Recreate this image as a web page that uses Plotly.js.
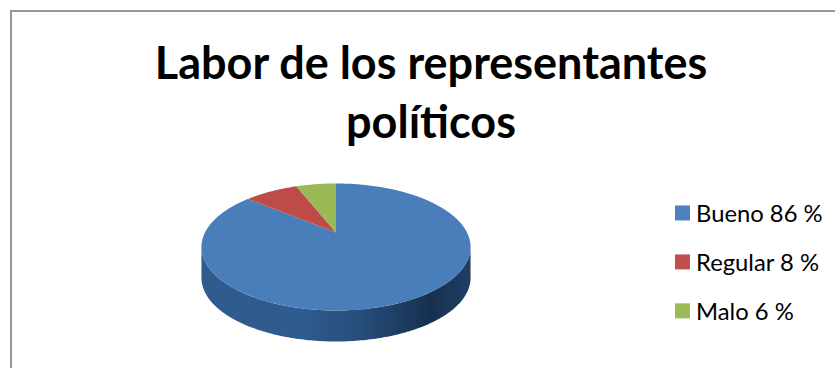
<!DOCTYPE html>
<html>
<head>
<meta charset="utf-8">
<script src="https://cdn.plot.ly/plotly-3.0.1.min.js"></script>
<style>html,body{margin:0;padding:0;background:#fff}#chart{width:835px;height:368px}</style>
</head>
<body>
<div id="chart"></div>
<script>
// Opinion survey results
const categories = ["Bueno", "Regular", "Malo"];
const shares = [86, 8, 6];
const legendLabels = ["Bueno 86 %", "Regular 8 %", "Malo 6 %"];
const sliceColors = ["#4a7ebb", "#be4b48", "#98b954"];
const legendColors = ["#4f81bd", "#c0504d", "#9bbb59"];
const sideShades = [
  [0, "#2f5b8f"], [0.35, "#2f5c90"], [0.6, "#274d7a"], [0.85, "#17304f"], [1, "#1f3f66"]
];
const titleText = "Labor de los representantes<br>políticos";

// Tilted disc: a circle seen in perspective, on an axis measured in pixels
const disc = { cx: 336, cy: 232.5, rx: 131, ry: 60.2, tilt: 0.228, depth: 31 };

function rimPoint(turn) {
  const a = turn * 2 * Math.PI;
  const u = Math.sin(a), v = Math.cos(a);
  const w = 1 + disc.tilt * v;
  return [disc.cx + disc.rx * u / w, disc.cy - disc.ry * v / w];
}

function wedge(from, to) {
  const xs = [disc.cx], ys = [disc.cy];
  const steps = Math.max(2, Math.ceil((to - from) * 360));
  for (let i = 0; i <= steps; i++) {
    const p = rimPoint(from + (to - from) * i / steps);
    xs.push(p[0]); ys.push(p[1]);
  }
  xs.push(disc.cx); ys.push(disc.cy);
  return { xs, ys };
}

function sideWall() {
  // Lower part of the rim, between the two widest points, extruded downwards
  const start = Math.acos(-disc.tilt) / (2 * Math.PI);
  const end = 1 - start;
  const top = [], bottom = [];
  for (let i = 0; i <= 180; i++) {
    const p = rimPoint(start + (end - start) * i / 180);
    top.push(p);
    bottom.push([p[0], p[1] + disc.depth]);
  }
  const ring = bottom.concat(top.reverse());
  ring.push(ring[0]);
  return { xs: ring.map(p => p[0]), ys: ring.map(p => p[1]) };
}

const total = shares.reduce((a, b) => a + b, 0);
const wall = sideWall();
const traces = [{
  x: wall.xs, y: wall.ys, mode: "none", fill: "toself", hoverinfo: "skip", showlegend: false,
  fillgradient: { type: "horizontal", colorscale: sideShades }
}];

let running = 0;
categories.forEach((name, i) => {
  const w = wedge(running / total, (running + shares[i]) / total);
  running += shares[i];
  traces.push({
    x: w.xs, y: w.ys, mode: "none", fill: "toself", fillcolor: sliceColors[i],
    name: name, hoverinfo: "name", showlegend: false
  });
});

// Square swatches for the legend
legendLabels.forEach((label, i) => {
  traces.push({
    x: [null], y: [null], mode: "markers", name: label, legendgroup: categories[i],
    marker: { symbol: "square", size: 15, color: legendColors[i] }
  });
});

const frame = { color: "#969696", width: 2 };
const layout = {
  width: 835, height: 368,
  margin: { l: 0, r: 0, t: 0, b: 0 },
  paper_bgcolor: "#ffffff", plot_bgcolor: "#ffffff",
  title: {
    text: titleText,
    font: { family: "Lato, sans-serif", size: 45, color: "#000000", weight: 700 },
    x: 431 / 835, xanchor: "center", xref: "paper",
    y: 1 - 79 / 368, yanchor: "top", yref: "container"
  },
  xaxis: { range: [0, 835], visible: false, fixedrange: true },
  yaxis: { range: [368, 0], visible: false, fixedrange: true },
  showlegend: true,
  legend: {
    x: 656 / 835, y: 1 - 191 / 368, xanchor: "left", yanchor: "top",
    font: { family: "Lato, sans-serif", size: 23.8, color: "#000000" },
    tracegroupgap: 15, bgcolor: "rgba(0,0,0,0)", borderwidth: 0
  },
  shapes: [
    { type: "line", xref: "x", yref: "y", x0: 11, x1: 11, y0: 10, y1: 368, line: frame },
    { type: "line", xref: "x", yref: "y", x0: 10, x1: 835, y0: 11, y1: 11, line: frame }
  ]
};

// Swatches sit closer to their labels than the default legend spacing allows
function tightenLegend() {
  document.querySelectorAll("#chart .legend .legendsymbols").forEach(g => {
    g.setAttribute("transform", "translate(6.5,0)");
  });
}

Plotly.newPlot("chart", traces, layout, { displayModeBar: false, staticPlot: true }).then(tightenLegend);
</script>
</body>
</html>
